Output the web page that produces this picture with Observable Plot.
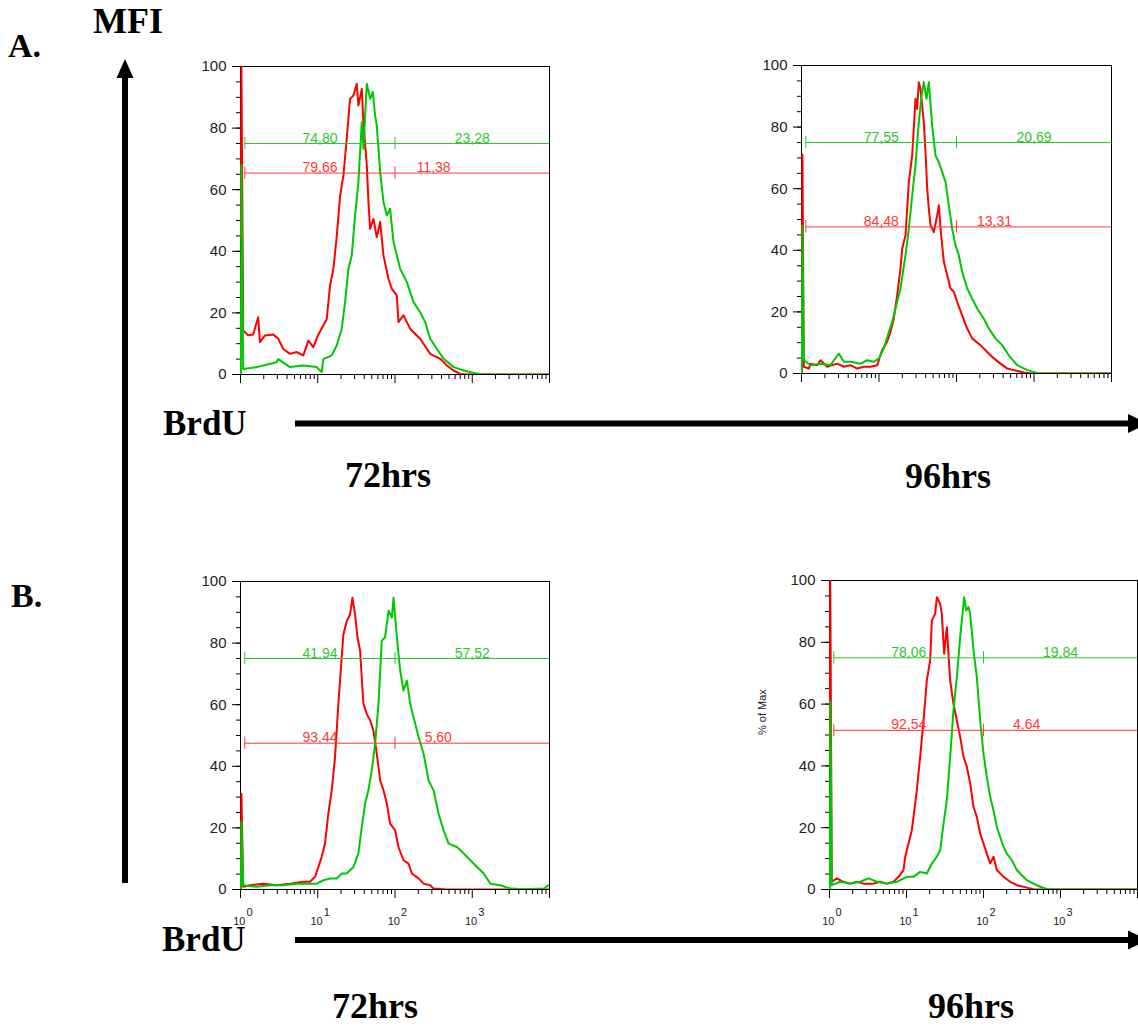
<!DOCTYPE html>
<html><head><meta charset="utf-8">
<script src="https://cdn.jsdelivr.net/npm/d3@7"></script>
<script src="https://cdn.jsdelivr.net/npm/@observablehq/plot@0.6"></script>
<style>
html,body{margin:0;padding:0;background:#fff;}
body{width:1138px;height:1026px;overflow:hidden;position:relative;}
.panel{position:absolute;}
.panel svg{max-width:none !important;display:block;}
#overlay{position:absolute;left:0;top:0;}
</style></head><body>
<svg id="overlay" width="1138" height="1026">
 <g font-family="'Liberation Serif','Times New Roman',serif" font-weight="bold" fill="#000">
  <text x="8" y="57" font-size="34">A.</text>
  <text x="93" y="33" font-size="36">MFI</text>
  <text x="11" y="607" font-size="34">B.</text>
  <text x="163" y="435" font-size="35">BrdU</text>
  <text x="345" y="487" font-size="36">72hrs</text>
  <text x="905" y="488" font-size="36">96hrs</text>
  <text x="162" y="951" font-size="35">BrdU</text>
  <text x="332" y="1018" font-size="36">72hrs</text>
  <text x="928" y="1018" font-size="36">96hrs</text>
 </g>
 <g fill="#000">
  <rect x="122" y="74" width="6" height="809"/>
  <polygon points="125,59 116.5,78 133.5,78"/>
  <rect x="295" y="420.5" width="836" height="6"/>
  <polygon points="1128,414 1128,433 1148,423.5"/>
  <rect x="295" y="937" width="836" height="6"/>
  <polygon points="1128,930.5 1128,949.5 1148,940"/>
 </g>
</svg>
<div id="root"></div>
<script>
// ---- data: [log10 fluorescence position, % of max] ----
const a72Red = [[0.005,45],[0.012,100],[0.035,14.3],[0.099,12.7],[0.164,13],[0.229,18.6],[0.251,10.5],[0.316,12.7],[0.424,13],[0.489,11.6],[0.554,8.3],[0.640,6.7],[0.726,7.3],[0.813,6.2],[0.878,11],[0.943,8.9],[1.008,13],[1.072,15.9],[1.116,18],[1.159,28.9],[1.202,34.3],[1.245,44.6],[1.289,58],[1.332,64.6],[1.375,76.5],[1.418,89.5],[1.462,90.6],[1.505,94.4],[1.526,87.3],[1.570,92.7],[1.591,81.9],[1.635,67.9],[1.656,56],[1.678,47.3],[1.721,50.5],[1.764,44.6],[1.808,49.5],[1.851,38.6],[1.916,31],[1.959,27.8],[2.024,25.6],[2.045,17],[2.110,19.2],[2.197,14.8],[2.326,11.6],[2.456,6.7],[2.586,5.1],[2.672,2.9],[2.759,1.3],[2.845,0.2],[2.95,0],[4,0]];
const a72Green = [[0.005,0],[0.012,68],[0.035,1.8],[0.208,2.4],[0.467,4],[0.489,5],[0.640,2.4],[0.813,2.9],[0.986,2.4],[1.051,0.8],[1.072,5],[1.181,6.2],[1.245,9.4],[1.310,14.8],[1.354,23.5],[1.397,34.3],[1.440,38.6],[1.483,51.6],[1.526,62.4],[1.570,81.9],[1.591,73.3],[1.613,84],[1.635,94.4],[1.678,89.5],[1.713,91.7],[1.743,84],[1.764,80.8],[1.808,65.7],[1.851,56],[1.894,51.6],[1.937,53.8],[1.981,43],[2.067,34.3],[2.154,30],[2.240,23.5],[2.326,20.2],[2.391,17],[2.456,11.6],[2.543,8.3],[2.629,5.1],[2.759,2.4],[2.889,1.3],[3.019,0.5],[3.105,0.1],[3.2,0],[4,0]];
const a96Red = [[0.005,0],[0.012,71],[0.030,2.2],[0.095,1.6],[0.116,3.2],[0.202,2.7],[0.245,4.3],[0.331,2.2],[0.460,3.2],[0.546,2.2],[0.632,2.7],[0.718,1.6],[0.804,2.2],[0.890,2.2],[0.976,2.7],[1.041,7.6],[1.105,10.3],[1.148,13.5],[1.191,17.8],[1.234,25.4],[1.277,34],[1.299,40.5],[1.342,44.9],[1.385,62.2],[1.428,70.8],[1.471,89.2],[1.492,85.9],[1.514,94.6],[1.535,92.4],[1.578,81.6],[1.600,71.9],[1.622,60],[1.643,53.5],[1.665,48.1],[1.708,45.9],[1.751,51.4],[1.772,54.6],[1.794,47],[1.837,36.2],[1.880,31.9],[1.923,27.6],[1.966,26.5],[2.009,23.2],[2.073,18.9],[2.138,14.6],[2.202,11.4],[2.310,9.2],[2.396,7],[2.482,4.9],[2.568,3.2],[2.654,1.6],[2.740,1.1],[2.869,0.3],[2.955,0],[4,0]];
const a96Green = [[0.005,0],[0.012,48],[0.030,4.3],[0.116,2.7],[0.245,3.2],[0.374,2.7],[0.482,6.5],[0.546,3.8],[0.632,3.8],[0.761,3.2],[0.847,4.3],[0.933,3.8],[0.998,4.9],[1.062,8.1],[1.127,13.5],[1.170,16.8],[1.213,21.1],[1.277,27.6],[1.342,38.4],[1.385,47],[1.428,57.8],[1.471,67.6],[1.514,81.6],[1.544,89.2],[1.578,94.6],[1.613,89.2],[1.643,94.6],[1.686,80.5],[1.729,70.8],[1.772,68.6],[1.815,65.4],[1.858,62.2],[1.901,54.6],[1.944,47],[1.987,41.6],[2.030,38.4],[2.073,33],[2.138,27.6],[2.202,24.3],[2.267,21.1],[2.353,17.8],[2.417,14.6],[2.503,11.4],[2.589,9.2],[2.675,5.9],[2.783,2.7],[2.912,1.1],[3.041,0.2],[3.12,0],[4,0]];
const b72Red = [[0.005,0],[0.012,31],[0.035,0.9],[0.121,1.4],[0.294,1.9],[0.467,1.4],[0.640,1.9],[0.813,2.5],[0.899,2.5],[0.964,4.1],[1.008,7.3],[1.051,10.6],[1.094,14.9],[1.137,24.6],[1.181,32.2],[1.224,43],[1.267,60.3],[1.310,75.4],[1.332,82.8],[1.375,87.1],[1.418,89.3],[1.449,94.7],[1.483,89.3],[1.514,81.9],[1.548,77.5],[1.591,60.3],[1.635,57],[1.678,54.9],[1.721,51.6],[1.764,44.1],[1.808,35.4],[1.851,32.2],[1.894,27.9],[1.937,21.4],[2.002,19.2],[2.045,13.8],[2.110,9.5],[2.175,8.4],[2.218,5.2],[2.305,3.6],[2.370,1.9],[2.456,1.4],[2.499,0.3],[2.629,0.1],[2.75,0],[4,0]];
const b72Green = [[0.005,0],[0.012,22],[0.035,1.4],[0.208,0.9],[0.381,1.4],[0.554,1.4],[0.726,1.9],[0.856,1.9],[0.986,1.9],[1.072,3],[1.159,3.6],[1.245,3.6],[1.310,5.2],[1.375,5.2],[1.462,7.3],[1.526,11.7],[1.570,20.3],[1.613,27.9],[1.656,32.2],[1.699,38.7],[1.743,47.3],[1.786,60.3],[1.829,80.8],[1.872,81.9],[1.916,90.5],[1.959,88.3],[1.981,94.7],[2.024,81.9],[2.067,71.1],[2.110,64.6],[2.154,67.8],[2.197,60.3],[2.240,55.9],[2.305,49.5],[2.370,44.1],[2.435,35.4],[2.499,32.2],[2.564,24.6],[2.629,19.2],[2.694,14.9],[2.802,13.8],[2.889,11.7],[2.975,9.5],[3.062,7.3],[3.148,5.2],[3.235,1.9],[3.364,1.4],[3.494,0.3],[3.667,0.1],[3.926,0.3],[3.991,1.4]];
const b96Red = [[0.005,40],[0.010,100],[0.030,2.5],[0.095,3.6],[0.182,2.5],[0.268,1.9],[0.355,2.5],[0.442,1.9],[0.571,1.9],[0.658,2.5],[0.745,1.9],[0.831,2.5],[0.896,4.1],[0.961,6.3],[0.983,10.6],[1.026,14.9],[1.069,19.2],[1.091,23.5],[1.134,32.1],[1.177,42.9],[1.221,54.7],[1.264,67.7],[1.307,74.1],[1.329,87.1],[1.372,89.2],[1.394,94.6],[1.437,92.5],[1.459,89.2],[1.489,76.3],[1.524,84.9],[1.545,76.3],[1.567,67.7],[1.610,60.1],[1.654,54.7],[1.697,49.4],[1.740,42.9],[1.784,39.7],[1.827,34.3],[1.870,26.7],[1.913,23.5],[1.957,18.1],[2.000,14.9],[2.043,11.6],[2.087,8.4],[2.130,10.6],[2.173,6.3],[2.260,4.1],[2.346,2.5],[2.433,1.4],[2.563,0.6],[2.649,0.1],[2.75,0],[4,0]];
const b96Green = [[0.005,0],[0.012,61],[0.030,1.4],[0.139,2.5],[0.268,1.9],[0.398,2.5],[0.506,3.6],[0.615,2.5],[0.745,1.9],[0.874,2.5],[1.004,4.1],[1.091,4.1],[1.177,5.7],[1.264,5.2],[1.329,8.4],[1.394,10.6],[1.437,12.7],[1.481,21.3],[1.524,28.9],[1.567,42.9],[1.610,58],[1.654,68.8],[1.697,81.7],[1.719,87.1],[1.749,94.6],[1.775,90.3],[1.805,91.4],[1.827,89.2],[1.870,77.4],[1.913,68.8],[1.957,54.7],[2.000,44],[2.043,36.4],[2.087,30],[2.130,25.6],[2.173,20.3],[2.216,17],[2.260,13.8],[2.303,11.6],[2.368,9.5],[2.433,6.3],[2.498,4.6],[2.563,3],[2.649,1.9],[2.736,0.9],[2.823,0.2],[2.9,0],[4,0]];

// gates: level (% of max), left/right percentages, right label position (log10)
const a72Gates = [{color:"green", level:75, left:"74,80", right:"23,28", rightAt:3.0},{color:"red", level:65.4, left:"79,66", right:"11,38", rightAt:2.5}];
const a96Gates = [{color:"green", level:75, left:"77,55", right:"20,69", rightAt:3.0},{color:"red", level:47.6, left:"84,48", right:"13,31", rightAt:2.49}];
const b72Gates = [{color:"green", level:75, left:"41,94", right:"57,52", rightAt:3.0},{color:"red", level:47.5, left:"93,44", right:"5,60", rightAt:2.56}];
const b96Gates = [{color:"green", level:75, left:"78,06", right:"19,84", rightAt:3.0},{color:"red", level:51.5, left:"92,54", right:"4,64", rightAt:2.56}];
const gateStart = 0.056, gateSplit = 2.0, leftLabelAt = 1.03;

const yMajor = [0, 20, 40, 60, 80, 100];
const yMinor = d3.range(0, 101, 5);
const xDecades = [1, 10, 100, 1000, 10000];
const xMinor = d3.range(0, 4).flatMap(k => d3.range(2, 10).map(m => m * 10 ** k));
const xLabelExps = [0, 1, 2, 3];

const RED = "#ff0000", GREEN = "#00c800", GATE_RED = "#ff3838", GATE_GREEN = "#2ec82e";
const ML = 80, MR = 2, MT = 10, MB = 42;

function panel({red, green, gates, xLabels, yLabel, W, H}) {
  const gateMarks = gates.flatMap(g => {
    const c = g.color === "red" ? GATE_RED : GATE_GREEN;
    return [
      Plot.ruleY([g], {y: "level", x1: () => 10 ** gateStart, x2: () => 1e4, stroke: c, strokeWidth: 1}),
      Plot.ruleX([gateStart, gateSplit], {x: d => 10 ** d, y1: () => g.level - 2, y2: () => g.level + 2, stroke: c, strokeWidth: 1}),
      Plot.text([{t: g.left, p: leftLabelAt}, {t: g.right, p: g.rightAt}], {x: d => 10 ** d.p, y: () => g.level, text: "t", fill: c, fontSize: 14, lineAnchor: "bottom", dy: -1})
    ];
  });
  return Plot.plot({
    width: W + ML + MR, height: H + MT + MB,
    marginLeft: ML, marginRight: MR, marginTop: MT, marginBottom: MB,
    x: {type: "log", domain: [1, 1e4]},
    y: {domain: [0, 100]},
    style: {background: "transparent", fontFamily: "'Liberation Sans', Arial, sans-serif", overflow: "visible", maxWidth: "none"},
    marks: [
      Plot.axisY({ticks: yMajor, tickSize: 8, tickPadding: 6, fontSize: 15, fill: "#222", label: null}),
      Plot.axisY({ticks: yMinor, tickSize: 4, tickFormat: () => "", label: null}),
      Plot.axisX({ticks: xDecades, tickSize: 9, tickFormat: () => "", label: null}),
      Plot.axisX({ticks: xMinor, tickSize: 5, tickFormat: () => "", label: null}),
      xLabels ? Plot.text(xLabelExps, {x: d => 10 ** d, frameAnchor: "bottom", text: () => "10", textAnchor: "end", dx: 5, dy: 35, lineAnchor: "bottom", fontSize: 11, fill: "#222"}) : null,
      xLabels ? Plot.text(xLabelExps, {x: d => 10 ** d, frameAnchor: "bottom", text: d => String(d), textAnchor: "start", dx: 6, dy: 26, lineAnchor: "bottom", fontSize: 11, fill: "#222"}) : null,
      yLabel ? Plot.text([yLabel], {frameAnchor: "left", rotate: -90, dx: -67, fontSize: 11, fill: "#222"}) : null,
      Plot.frame({stroke: "#000"}),
      Plot.line(red, {x: d => 10 ** d[0], y: d => d[1], stroke: RED, strokeWidth: 2, clip: true}),
      Plot.line(green, {x: d => 10 ** d[0], y: d => d[1], stroke: GREEN, strokeWidth: 2, clip: true}),
      ...gateMarks
    ]
  });
}

const specs = [
  {red: a72Red, green: a72Green, gates: a72Gates, xLabels: false, yLabel: null, L: 240, T: 66, W: 309, H: 308},
  {red: a96Red, green: a96Green, gates: a96Gates, xLabels: false, yLabel: null, L: 801, T: 65, W: 310, H: 308},
  {red: b72Red, green: b72Green, gates: b72Gates, xLabels: true, yLabel: null, L: 240, T: 581, W: 309, H: 308},
  {red: b96Red, green: b96Green, gates: b96Gates, xLabels: true, yLabel: "% of Max", L: 829, T: 580, W: 308, H: 309}
];

const root = document.getElementById("root");
for (const s of specs) {
  const svg = panel(s);
  const wrap = document.createElement("div");
  wrap.className = "panel";
  wrap.style.left = (s.L - ML) + "px";
  wrap.style.top = (s.T - MT) + "px";
  wrap.style.width = (s.W + ML + MR) + "px";
  wrap.style.height = (s.H + MT + MB) + "px";
  svg.setAttribute("width", s.W + ML + MR);
  svg.setAttribute("height", s.H + MT + MB);
  svg.style.width = (s.W + ML + MR) + "px";
  svg.style.height = (s.H + MT + MB) + "px";
  wrap.appendChild(svg);
  root.appendChild(wrap);
}
</script>
</body></html>
